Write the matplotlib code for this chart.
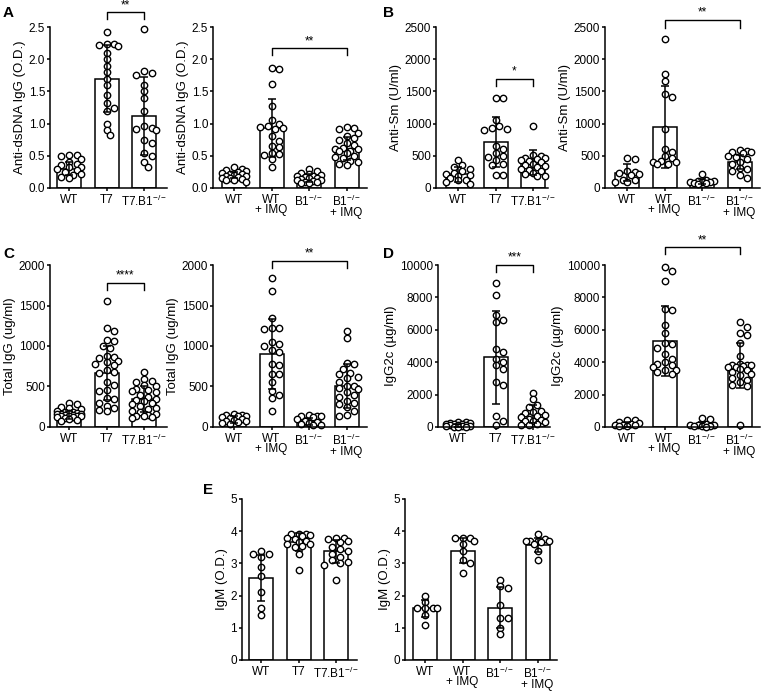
import numpy as np
import matplotlib
matplotlib.use('Agg')
import matplotlib.pyplot as plt

plt.rcParams['font.family'] = ['Liberation Sans', 'DejaVu Sans']
plt.rcParams['mathtext.fontset'] = 'custom'
plt.rcParams['mathtext.rm'] = 'Liberation Sans'
plt.rcParams['mathtext.it'] = 'Liberation Sans:italic'
plt.rcParams['font.size'] = 8.5

# group labels
lab3 = ['WT', 'T7', 'T7.B1$^{-/-}$']
lab4 = ['WT', 'WT\n+ IMQ', 'B1$^{-/-}$', 'B1$^{-/-}$\n+ IMQ']

# A - anti-dsDNA IgG (O.D.)
dsdna_t7_means = [0.30, 1.70, 1.12]
dsdna_t7_sds = [0.10, 0.52, 0.60]
dsdna_t7_pts = [
    [0.52, 0.51, 0.50, 0.45, 0.40, 0.37, 0.35, 0.33, 0.32, 0.30, 0.28, 0.25, 0.22, 0.20, 0.17, 0.15],
    [2.43, 2.24, 2.23, 2.22, 2.20, 2.10, 2.00, 1.90, 1.80, 1.70, 1.60, 1.45, 1.32, 1.25, 1.20, 1.00, 0.90, 0.82],
    [2.47, 1.82, 1.78, 1.75, 1.60, 1.50, 1.40, 1.20, 0.96, 0.93, 0.92, 0.90, 0.75, 0.70, 0.55, 0.50, 0.40, 0.32],
]
dsdna_imq_means = [0.20, 0.93, 0.15, 0.61]
dsdna_imq_sds = [0.05, 0.45, 0.06, 0.18]
dsdna_imq_pts = [
    [0.32, 0.29, 0.28, 0.27, 0.25, 0.24, 0.22, 0.21, 0.20, 0.19, 0.18, 0.17, 0.16, 0.15, 0.14, 0.13, 0.12, 0.10],
    [1.86, 1.85, 1.62, 1.27, 1.05, 1.00, 0.97, 0.95, 0.93, 0.92, 0.80, 0.73, 0.65, 0.63, 0.55, 0.53, 0.52, 0.45, 0.32],
    [0.30, 0.26, 0.24, 0.22, 0.20, 0.19, 0.18, 0.17, 0.16, 0.15, 0.14, 0.13, 0.12, 0.11, 0.10, 0.09, 0.08, 0.07],
    [0.95, 0.93, 0.91, 0.86, 0.80, 0.77, 0.75, 0.70, 0.66, 0.62, 0.61, 0.60, 0.58, 0.57, 0.55, 0.50, 0.48, 0.46,
     0.42, 0.40, 0.38, 0.36],
]

# B - anti-Sm (U/ml)
sm_t7_means = [210, 710, 395]
sm_t7_sds = [120, 390, 190]
sm_t7_pts = [
    [440, 360, 330, 290, 260, 230, 210, 200, 190, 150, 130, 120, 90, 60],
    [1400, 1400, 1050, 960, 930, 910, 900, 650, 600, 550, 500, 480, 440, 370, 350, 200, 200],
    [970, 520, 490, 470, 460, 450, 430, 420, 400, 380, 360, 340, 320, 300, 280, 260, 230, 210, 190, 180],
]
sm_imq_means = [240, 950, 100, 400]
sm_imq_sds = [130, 640, 40, 110]
sm_imq_pts = [
    [460, 450, 270, 250, 240, 220, 200, 130, 120, 100, 90],
    [2320, 1770, 1660, 1460, 1420, 910, 610, 560, 500, 460, 420, 410, 400, 380, 370],
    [210, 120, 110, 105, 100, 95, 90, 85, 80, 60],
    [590, 580, 560, 555, 540, 500, 480, 450, 410, 380, 310, 290, 260, 200, 160],
]

# C - total IgG (ug/ml)
igg_t7_means = [150, 665, 340]
igg_t7_sds = [50, 330, 160]
igg_t7_pts = [
    [300, 280, 250, 230, 220, 200, 190, 180, 175, 170, 165, 160, 155, 150, 145, 140, 140, 135, 130, 125,
     120, 110, 100, 90, 70],
    [1560, 1220, 1180, 1070, 1060, 1000, 980, 880, 860, 850, 820, 800, 780, 760, 700, 680, 670, 560, 520,
     460, 450, 360, 340, 300, 260, 230, 210, 200],
    [680, 590, 570, 560, 520, 500, 470, 460, 450, 430, 400, 370, 350, 330, 320, 300, 280, 260, 240, 220,
     200, 180, 160, 150, 140, 130, 120, 110],
]
igg_imq_means = [90, 905, 70, 505]
igg_imq_sds = [40, 430, 45, 270]
igg_imq_pts = [
    [160, 150, 145, 140, 130, 120, 110, 100, 90, 80, 70, 60, 50, 40],
    [1840, 1680, 1340, 1220, 1220, 1210, 1050, 1030, 1000, 950, 930, 780, 770, 660, 650, 560, 450, 400, 360, 200],
    [150, 140, 135, 130, 120, 100, 80, 60, 50, 40, 30, 20],
    [1190, 1100, 790, 780, 720, 670, 650, 620, 600, 560, 510, 500, 480, 470, 430, 400, 370, 320, 300, 280,
     250, 200, 150, 140],
]

# D - IgG2c (ug/ml)
igg2c_t7_means = [80, 4300, 780]
igg2c_t7_sds = [90, 2850, 550]
igg2c_t7_pts = [
    [320, 280, 250, 220, 200, 180, 160, 140, 120, 100, 80, 60, 40, 30, 20, 10],
    [8900, 8150, 6900, 6600, 6500, 4800, 4600, 4200, 4000, 3800, 3600, 2800, 2600, 700, 400, 100],
    [2100, 1700, 1350, 1250, 1000, 900, 850, 750, 650, 600, 500, 450, 400, 350, 300, 200, 150, 100],
]
igg2c_imq_means = [150, 5300, 100, 3800]
igg2c_imq_sds = [150, 2150, 180, 1400]
igg2c_imq_pts = [
    [450, 430, 300, 250, 200, 150, 120, 100, 80, 50],
    [9900, 9600, 9000, 7300, 7200, 6300, 5800, 5200, 5100, 4900, 4500, 4200, 4000, 3900, 3800, 3700, 3500,
     3500, 3400, 3300],
    [550, 520, 200, 150, 120, 100, 80, 60, 40, 20],
    [6500, 6200, 5800, 5700, 5200, 4400, 3900, 3850, 3800, 3800, 3750, 3700, 3700, 3600, 3500, 3400, 3300,
     3200, 3000, 2900, 2800, 2600, 2500, 150],
]

# E - IgM (O.D.)
igm_t7_means = [2.55, 3.65, 3.37]
igm_t7_sds = [0.72, 0.28, 0.35]
igm_t7_pts = [
    [3.4, 3.3, 3.3, 3.2, 2.9, 2.6, 2.1, 1.6, 1.4],
    [3.92, 3.92, 3.9, 3.88, 3.85, 3.8, 3.75, 3.7, 3.65, 3.6, 3.6, 3.55, 3.5, 3.3, 2.8],
    [3.8, 3.8, 3.75, 3.7, 3.65, 3.5, 3.45, 3.4, 3.3, 3.2, 3.1, 3.05, 3.0, 2.95, 2.5],
]
igm_imq_means = [1.60, 3.40, 1.63, 3.57]
igm_imq_sds = [0.27, 0.40, 0.63, 0.22]
igm_imq_pts = [
    [2.0, 1.8, 1.6, 1.6, 1.6, 1.6, 1.4, 1.1],
    [3.8, 3.8, 3.8, 3.7, 3.6, 3.4, 3.1, 3.0, 2.7],
    [2.5, 2.3, 2.25, 1.7, 1.3, 1.3, 1.0, 0.8],
    [3.9, 3.75, 3.7, 3.7, 3.7, 3.7, 3.65, 3.6, 3.4, 3.1],
]

W, H = 761, 691
SP = 37.5          # px between bar centres
fig = plt.figure(figsize=(W / 100, H / 100), dpi=100)


def swarm(vals, ppu_y, d=6.4, maxw=13):
    # simple beeswarm in pixel space, returns x offsets in bar units
    placed = []
    offs = []
    cands = [0.0]
    for n in range(1, 8):
        cands += [n * d * 0.6, -n * d * 0.6]
    for v in vals:
        y = v * ppu_y
        best, bestd = None, -1
        for c in cands:
            if abs(c) > maxw:
                continue
            md = min([np.hypot(c - px, y - py) for px, py in placed] + [99])
            if md >= d:
                best = c
                break
            if md > bestd:
                best, bestd = c, md
        placed.append((best, y))
        offs.append(best / SP)
    return offs


def panel(x0, x1, ytop, ybot, c0, labels, means, sds, pts, ylim, ticks, fmt, ylabel, bracket=None):
    ax = fig.add_axes([x0 / W, 1 - ybot / H, (x1 - x0) / W, (ybot - ytop) / H])
    n = len(labels)
    xs = np.arange(n)
    ax.bar(xs, means, width=0.64, color='white', edgecolor='black', linewidth=1.1, zorder=1)
    ppu_y = (ybot - ytop) / (ylim[1] - ylim[0])
    for i in range(n):
        offs = swarm(pts[i], ppu_y)
        ax.plot(i + np.array(offs), pts[i], 'o', ms=4.6, mfc='white', mec='black', mew=1.0,
                zorder=2, clip_on=False)
    ax.errorbar(xs, means, yerr=sds, fmt='none', ecolor='black', elinewidth=1.1,
                capsize=3, capthick=1.1, zorder=3)
    ax.set_xlim((x0 - c0) / SP, (x1 - c0) / SP)
    ax.set_ylim(*ylim)
    ax.set_yticks(ticks)
    ax.set_yticklabels([fmt.format(t) for t in ticks])
    ax.set_xticks(xs)
    ax.set_xticklabels(labels, linespacing=0.85, va='top')
    ax.spines['top'].set_visible(False)
    ax.spines['right'].set_visible(False)
    for s in ['left', 'bottom']:
        ax.spines[s].set_linewidth(1.1)
    ax.tick_params(axis='y', length=2.5, width=1.1, pad=1)
    ax.tick_params(axis='x', length=2.5, width=1.1, pad=1.5)
    ax.set_ylabel(ylabel, fontsize=9.5, labelpad=2)
    if bracket:
        i, j, yb, drop, stars = bracket
        ax.plot([i, i, j, j], [yb - drop, yb, yb, yb - drop], color='black', lw=1.0, clip_on=False)
        ax.text((i + j) / 2, yb + drop * 0.15, stars, ha='center', va='bottom', fontsize=8.5)
    return ax


r1 = (27, 188)
r2 = (265, 427)
r3 = (499, 660)

panel(50, 167, *r1, 69, lab3, dsdna_t7_means, dsdna_t7_sds, dsdna_t7_pts, (0, 2.5),
      [0, 0.5, 1.0, 1.5, 2.0, 2.5], '{:.1f}', 'Anti-dsDNA IgG (O.D.)', (1, 2, 2.73, 0.11, '**'))
panel(213, 367, *r1, 234, lab4, dsdna_imq_means, dsdna_imq_sds, dsdna_imq_pts, (0, 2.5),
      [0, 0.5, 1.0, 1.5, 2.0, 2.5], '{:.1f}', 'Anti-dsDNA IgG (O.D.)', (1, 3, 2.17, 0.11, '**'))
panel(436, 548, *r1, 458, lab3, sm_t7_means, sm_t7_sds, sm_t7_pts, (0, 2500),
      [0, 500, 1000, 1500, 2000, 2500], '{:d}', 'Anti-Sm (U/ml)', (1, 2, 1700, 110, '*'))
panel(605, 760, *r1, 627, lab4, sm_imq_means, sm_imq_sds, sm_imq_pts, (0, 2500),
      [0, 500, 1000, 1500, 2000, 2500], '{:d}', 'Anti-Sm (U/ml)', (1, 3, 2610, 120, '**'))

panel(50, 167, *r2, 69, lab3, igg_t7_means, igg_t7_sds, igg_t7_pts, (0, 2000),
      [0, 500, 1000, 1500, 2000], '{:d}', 'Total IgG (ug/ml)', (1, 2, 1780, 90, '****'))
panel(213, 367, *r2, 234, lab4, igg_imq_means, igg_imq_sds, igg_imq_pts, (0, 2000),
      [0, 500, 1000, 1500, 2000], '{:d}', 'Total IgG (ug/ml)', (1, 3, 2050, 90, '**'))
panel(438, 550, *r2, 458, lab3, igg2c_t7_means, igg2c_t7_sds, igg2c_t7_pts, (0, 10000),
      [0, 2000, 4000, 6000, 8000, 10000], '{:d}', 'IgG2c (µg/ml)', (1, 2, 10000, 450, '***'))
panel(605, 760, *r2, 627, lab4, igg2c_imq_means, igg2c_imq_sds, igg2c_imq_pts, (0, 10000),
      [0, 2000, 4000, 6000, 8000, 10000], '{:d}', 'IgG2c (µg/ml)', (1, 3, 11100, 450, '**'))

panel(242, 357, *r3, 261, lab3, igm_t7_means, igm_t7_sds, igm_t7_pts, (0, 5),
      [0, 1, 2, 3, 4, 5], '{:d}', 'IgM (O.D.)')
panel(405, 557, *r3, 425, lab4, igm_imq_means, igm_imq_sds, igm_imq_pts, (0, 5),
      [0, 1, 2, 3, 4, 5], '{:d}', 'IgM (O.D.)')

# panel letters
for letter, px, py in [('A', 3, 13), ('B', 383, 13), ('C', 3, 254), ('D', 383, 254), ('E', 203, 490)]:
    fig.text(px / W, 1 - py / H, letter, fontsize=11, fontweight='bold', va='center', ha='left')

fig.savefig('out.png', dpi=100)
